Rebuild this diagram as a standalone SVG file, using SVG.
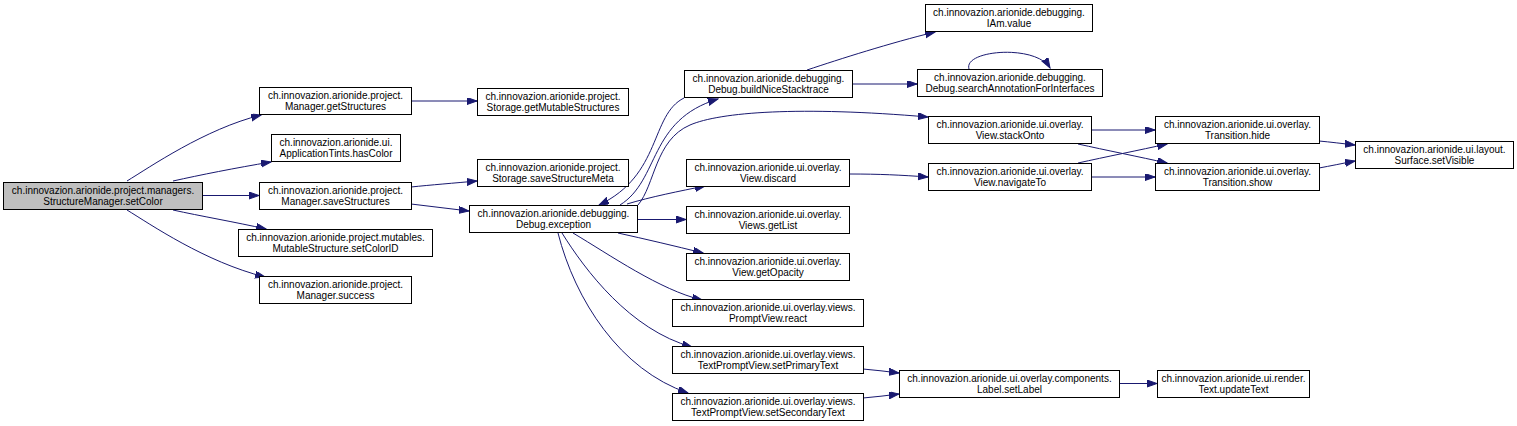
<svg xmlns="http://www.w3.org/2000/svg" width="1517" height="426" viewBox="0 0 1517 426">
<style>
.n rect{fill:#ffffff;stroke:#000000;stroke-width:1}
.n.root rect{fill:#bfbfbf}
.n text{font-family:"Liberation Sans",Arial,Helvetica,sans-serif;font-size:10px;fill:#000000;text-anchor:middle}
.e path{fill:none;stroke:#191970;stroke-width:1;marker-end:url(#ah)}
</style>
<defs>
<marker id="ah" markerWidth="11" markerHeight="8" refX="10" refY="3.5" orient="auto" markerUnits="userSpaceOnUse">
<path d="M0,0 L10,3.5 L0,7 z" fill="#191970" stroke="#191970" stroke-width="1"/>
</marker>
</defs>
<rect x="0" y="0" width="1517" height="426" fill="#ffffff"/>
<g id="edges" class="e">
<path d="M127,181 C150,167 205,129 261,115"/>
<path d="M173,181 C200,175 235,168 271,162"/>
<path d="M202,195.5 L259,195.5"/>
<path d="M173,210 C200,216 235,222 266,229"/>
<path d="M127,210 C150,224 205,262 265,277"/>
<path d="M411,101 L477,101"/>
<path d="M411,187 C430,185 455,183 477,181"/>
<path d="M411,204 C430,206 450,209 469,211"/>
<path d="M620,205 C660,180 648,120 718,99"/>
<path d="M684,98 C650,115 662,175 599,205"/>
<path d="M638,205 C655,185 655,140 690,125 C720,112 800,106 928,117"/>
<path d="M627,204 C650,197 680,191 705,186"/>
<path d="M637,219.5 L686,219.5"/>
<path d="M618,233 C645,239 675,246 703,253"/>
<path d="M573,233 C610,255 660,290 702,300"/>
<path d="M562,233 C585,270 630,330 692,347"/>
<path d="M558,233 C575,300 620,370 688,393"/>
<path d="M807,70 C840,59 890,43 935,32"/>
<path d="M852,84 L917,84"/>
<path d="M969,69 C963,50 1036,44 1050,68"/>
<path d="M849,174 C880,174 900,175 928,177"/>
<path d="M1091,130 L1155,130"/>
<path d="M1078,144 C1105,150 1140,157 1167,163"/>
<path d="M1078,163 C1105,157 1140,150 1167,144"/>
<path d="M1091,177 L1155,177"/>
<path d="M1319,141 C1330,142 1342,143.5 1355,145"/>
<path d="M1319,168 C1330,166 1342,163.5 1355,161"/>
<path d="M863,369 C875,370 887,371.5 899,373"/>
<path d="M863,398 C875,397 887,395.5 899,394"/>
<path d="M1119,383.5 L1157,383.5"/>
</g>
<g id="n_setColor" class="n root"><rect x="3.5" y="182.5" width="199" height="27"/><text x="103" y="194">ch.innovazion.arionide.project.managers.</text><text x="103" y="205">StructureManager.setColor</text></g>
<g id="n_getStructures" class="n"><rect x="259.5" y="87.5" width="152" height="27"/><text x="335.5" y="99">ch.innovazion.arionide.project.</text><text x="335.5" y="110">Manager.getStructures</text></g>
<g id="n_hasColor" class="n"><rect x="271.5" y="134.5" width="129" height="27"/><text x="336" y="146">ch.innovazion.arionide.ui.</text><text x="336" y="157">ApplicationTints.hasColor</text></g>
<g id="n_saveStructures" class="n"><rect x="259.5" y="182.5" width="152" height="27"/><text x="335.5" y="194">ch.innovazion.arionide.project.</text><text x="335.5" y="205">Manager.saveStructures</text></g>
<g id="n_setColorID" class="n"><rect x="238.5" y="229.5" width="194" height="27"/><text x="335.5" y="241">ch.innovazion.arionide.project.mutables.</text><text x="335.5" y="252">MutableStructure.setColorID</text></g>
<g id="n_success" class="n"><rect x="259.5" y="276.5" width="152" height="27"/><text x="335.5" y="288">ch.innovazion.arionide.project.</text><text x="335.5" y="299">Manager.success</text></g>
<g id="n_getMutableStructures" class="n"><rect x="477.5" y="88.5" width="151" height="27"/><text x="553" y="100">ch.innovazion.arionide.project.</text><text x="553" y="111">Storage.getMutableStructures</text></g>
<g id="n_saveStructureMeta" class="n"><rect x="477.5" y="159.5" width="151" height="27"/><text x="553" y="171">ch.innovazion.arionide.project.</text><text x="553" y="182">Storage.saveStructureMeta</text></g>
<g id="n_exception" class="n"><rect x="469.5" y="205.5" width="168" height="27"/><text x="553.5" y="217">ch.innovazion.arionide.debugging.</text><text x="553.5" y="228">Debug.exception</text></g>
<g id="n_buildNiceStacktrace" class="n"><rect x="684.5" y="70.5" width="168" height="27"/><text x="768.5" y="82">ch.innovazion.arionide.debugging.</text><text x="768.5" y="93">Debug.buildNiceStacktrace</text></g>
<g id="n_discard" class="n"><rect x="686.5" y="159.5" width="163" height="27"/><text x="768" y="171">ch.innovazion.arionide.ui.overlay.</text><text x="768" y="182">View.discard</text></g>
<g id="n_getList" class="n"><rect x="686.5" y="206.5" width="163" height="27"/><text x="768" y="218">ch.innovazion.arionide.ui.overlay.</text><text x="768" y="229">Views.getList</text></g>
<g id="n_getOpacity" class="n"><rect x="686.5" y="253.5" width="163" height="27"/><text x="768" y="265">ch.innovazion.arionide.ui.overlay.</text><text x="768" y="276">View.getOpacity</text></g>
<g id="n_react" class="n"><rect x="672.5" y="299.5" width="191" height="27"/><text x="768" y="311">ch.innovazion.arionide.ui.overlay.views.</text><text x="768" y="322">PromptView.react</text></g>
<g id="n_setPrimaryText" class="n"><rect x="672.5" y="346.5" width="191" height="27"/><text x="768" y="358">ch.innovazion.arionide.ui.overlay.views.</text><text x="768" y="369">TextPromptView.setPrimaryText</text></g>
<g id="n_setSecondaryText" class="n"><rect x="672.5" y="393.5" width="191" height="27"/><text x="768" y="405">ch.innovazion.arionide.ui.overlay.views.</text><text x="768" y="416">TextPromptView.setSecondaryText</text></g>
<g id="n_IAmValue" class="n"><rect x="925.5" y="4.5" width="167" height="27"/><text x="1009" y="16">ch.innovazion.arionide.debugging.</text><text x="1009" y="27">IAm.value</text></g>
<g id="n_searchAnnotation" class="n"><rect x="917.5" y="69.5" width="185" height="27"/><text x="1010" y="81">ch.innovazion.arionide.debugging.</text><text x="1010" y="92">Debug.searchAnnotationForInterfaces</text></g>
<g id="n_stackOnto" class="n"><rect x="928.5" y="116.5" width="163" height="27"/><text x="1010" y="128">ch.innovazion.arionide.ui.overlay.</text><text x="1010" y="139">View.stackOnto</text></g>
<g id="n_navigateTo" class="n"><rect x="928.5" y="163.5" width="163" height="27"/><text x="1010" y="175">ch.innovazion.arionide.ui.overlay.</text><text x="1010" y="186">View.navigateTo</text></g>
<g id="n_setLabel" class="n"><rect x="899.5" y="370.5" width="220" height="27"/><text x="1009.5" y="382">ch.innovazion.arionide.ui.overlay.components.</text><text x="1009.5" y="393">Label.setLabel</text></g>
<g id="n_hide" class="n"><rect x="1155.5" y="116.5" width="164" height="27"/><text x="1237.5" y="128">ch.innovazion.arionide.ui.overlay.</text><text x="1237.5" y="139">Transition.hide</text></g>
<g id="n_show" class="n"><rect x="1155.5" y="163.5" width="164" height="27"/><text x="1237.5" y="175">ch.innovazion.arionide.ui.overlay.</text><text x="1237.5" y="186">Transition.show</text></g>
<g id="n_updateText" class="n"><rect x="1157.5" y="370.5" width="152" height="27"/><text x="1233.5" y="382">ch.innovazion.arionide.ui.render.</text><text x="1233.5" y="393">Text.updateText</text></g>
<g id="n_setVisible" class="n"><rect x="1355.5" y="141.5" width="158" height="27"/><text x="1434.5" y="153">ch.innovazion.arionide.ui.layout.</text><text x="1434.5" y="164">Surface.setVisible</text></g>
</svg>
